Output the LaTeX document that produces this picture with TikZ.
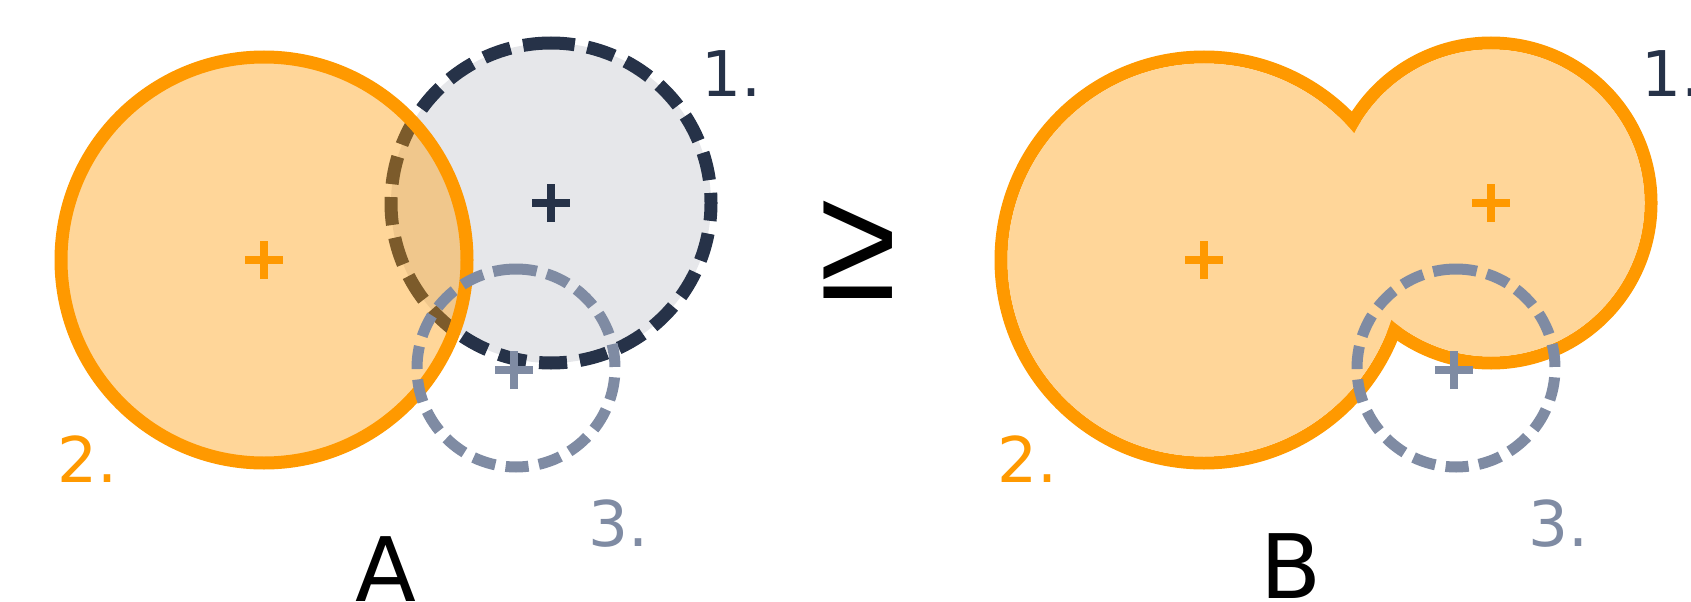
\documentclass[tikz,border=0pt]{standalone}
\usepackage{fontspec}
\setmainfont{DejaVu Sans}
\newfontfamily\relfont{Liberation Sans}
\definecolor{navy}{HTML}{263248}
\definecolor{org}{HTML}{FF9900}
\definecolor{orgfill}{HTML}{FFD699}
\definecolor{slate}{HTML}{7F8BA3}
\definecolor{lgray}{HTML}{E6E7EA}
\begin{document}
\begin{tikzpicture}[x=0.5pt,y=0.5pt,
  c1line/.style={draw=navy, line width=6.5pt, dash pattern=on 14pt off 6.45pt},
  c3line/.style={draw=slate, line width=5.5pt, dash pattern=on 11.5pt off 5.2pt},
  c2line/.style={draw=org, line width=6.5pt},
  plusmark/.style={line width=4pt},
  lab/.style={font=\fontsize{31.5}{36}\selectfont, inner sep=0pt, anchor=base west},
  big/.style={font=\fontsize{44.5}{50}\selectfont, inner sep=0pt, anchor=base},
]
\useasboundingbox (0,0) rectangle (1691,601);
% centres
\coordinate (C2A) at (264,341);
\coordinate (C1A) at (551,398);
\coordinate (C3A) at (516,233);
\coordinate (P3A) at (514,231);
\coordinate (C2B) at (1204,341);
\coordinate (C1B) at (1491,398);
\coordinate (C3B) at (1456,233);
\coordinate (P3B) at (1454,231);
% ---------- panel A ----------
\fill[lgray] (C1A) circle[radius=160];
\draw[c1line] (C1A) ++(0,160) arc[start angle=90, end angle=450, radius=160];
\fill[org, fill opacity=0.4] (C2A) circle[radius=203];
\draw[c2line] (C2A) circle[radius=203];
\draw[c3line] (C3A) ++(0,99) arc[start angle=90, end angle=450, radius=99];
\draw[plusmark, navy] (C1A) ++(-19,0) -- ++(38,0) (C1A) ++(0,-19) -- ++(0,38);
\draw[plusmark, org] (C2A) ++(-19,0) -- ++(38,0) (C2A) ++(0,-19) -- ++(0,38);
\draw[plusmark, slate] (P3A) ++(-19,0) -- ++(38,0) (P3A) ++(0,-19) -- ++(0,38);
\node[lab, text=navy] (l1A) at (701,504) {1.};
\node[lab, text=org] (l2A) at (57,119) {2.};
\node[lab, text=slate] (l3A) at (588,55) {3.};
\node[big] (tA) at (386,0) {A};
% ---------- relation ----------
\node[font=\relfont\fontsize{81}{90}\selectfont, inner sep=0pt, xscale=0.87] (geq) at (858,351) {≥};
% ---------- panel B ----------
\draw[c2line] (C2B) circle[radius=203];
\draw[c2line] (C1B) circle[radius=160];
\fill[orgfill] (C2B) circle[radius=196.5];
\fill[orgfill] (C1B) circle[radius=153.5];
\draw[c3line] (C3B) ++(0,99) arc[start angle=90, end angle=450, radius=99];
\draw[plusmark, org] (C1B) ++(-19,0) -- ++(38,0) (C1B) ++(0,-19) -- ++(0,38);
\draw[plusmark, org] (C2B) ++(-19,0) -- ++(38,0) (C2B) ++(0,-19) -- ++(0,38);
\draw[plusmark, slate] (P3B) ++(-19,0) -- ++(38,0) (P3B) ++(0,-19) -- ++(0,38);
\node[lab, text=navy] (l1B) at (1641,504) {1.};
\node[lab, text=org] (l2B) at (997,119) {2.};
\node[lab, text=slate] (l3B) at (1528,55) {3.};
\node[big] (tB) at (1291,3) {B};
\end{tikzpicture}
\end{document}
